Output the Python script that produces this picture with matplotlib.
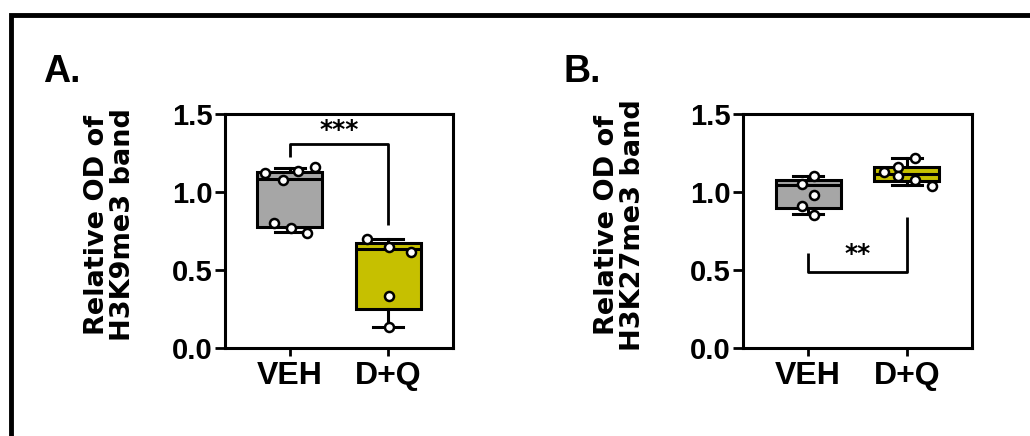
import matplotlib.pyplot as plt
from matplotlib.patches import Rectangle

plt.rcParams['font.family'] = ['Liberation Sans', 'DejaVu Sans']
plt.rcParams['font.weight'] = 'bold'

groups = ['VEH', 'D+Q']

# Panel A: H3K9me3, individual points per group
a_veh = [1.12, 1.077, 1.135, 1.158, 0.80, 0.771, 0.735]
a_dq = [0.699, 0.645, 0.617, 0.335, 0.137]
# box summaries (whisker low, Q1, median, Q3, whisker high)
a_boxes = [[0.744, 0.776, 1.083, 1.128, 1.154],
           [0.137, 0.25, 0.632, 0.671, 0.699]]

# Panel B: H3K27me3
b_veh = [1.051, 1.103, 0.979, 0.910, 0.853]
b_dq = [1.216, 1.158, 1.131, 1.103, 1.077, 1.040]
b_boxes = [[0.859, 0.90, 1.045, 1.077, 1.10],
           [1.045, 1.071, 1.115, 1.162, 1.216]]

# horizontal spread of the scatter points inside each box
a_jitter = [[-0.25, -0.07, 0.08, 0.26, -0.16, 0.01, 0.17],
            [-0.22, 0.01, 0.235, 0.01, 0.01]]
b_jitter = [[-0.06, 0.06, 0.06, -0.06, 0.06],
            [0.08, -0.09, -0.235, -0.09, 0.08, 0.25]]

box_colors = ['#a6a6a6', '#c6c000']

W, H = 1030, 436
fig = plt.figure(figsize=(W / 100, H / 100), dpi=100)


def px_axes(left, right, top, bottom):
    return fig.add_axes([left / W, 1 - bottom / H, (right - left) / W, (bottom - top) / H])


def draw_panel(ax, boxes, points, jitter):
    stats = []
    for b in boxes:
        stats.append(dict(whislo=b[0], q1=b[1], med=b[2], q3=b[3], whishi=b[4], fliers=[]))
    bp = ax.bxp(stats, positions=[0, 1], widths=0.66, capwidths=0.3, patch_artist=True,
                showfliers=False,
                boxprops=dict(linewidth=2.2, edgecolor='black'),
                medianprops=dict(color='black', linewidth=2.2),
                whiskerprops=dict(color='black', linewidth=2.2),
                capprops=dict(color='black', linewidth=2.2))
    for patch, c in zip(bp['boxes'], box_colors):
        patch.set_facecolor(c)
    for i, (vals, jit) in enumerate(zip(points, jitter)):
        xs = [i + j for j in jit]
        ax.plot(xs, vals, 'o', ms=6.5, mfc='white', mec='black', mew=1.8, zorder=5)

    ax.set_xlim(-0.66, 1.66)
    ax.set_ylim(0, 1.5)
    ax.set_yticks([0, 0.5, 1.0, 1.5])
    ax.set_yticklabels(['0.0', '0.5', '1.0', '1.5'])
    ax.set_xticks([0, 1])
    ax.set_xticklabels(groups)
    for s in ax.spines.values():
        s.set_linewidth(2.2)
    ax.tick_params(axis='y', length=7, width=2, pad=2, labelsize=21)
    ax.tick_params(axis='x', length=6, width=2, pad=3, labelsize=23)


# Panel A
ax1 = px_axes(225, 453, 114, 348)
draw_panel(ax1, a_boxes, [a_veh, a_dq], a_jitter)
ax1.plot([0, 0, 1, 1], [1.227, 1.31, 1.31, 0.788], color='black', lw=2, solid_capstyle='butt')
ax1.text(0.5, 1.40, '***', ha='center', va='center', fontsize=18,
         family='DejaVu Sans', fontweight='bold')

# Panel B
ax2 = px_axes(743, 972, 114, 348)
draw_panel(ax2, b_boxes, [b_veh, b_dq], b_jitter)
ax2.plot([0, 0, 1, 1], [0.607, 0.489, 0.489, 0.842], color='black', lw=2, solid_capstyle='butt')
ax2.text(0.5, 0.60, '**', ha='center', va='center', fontsize=18,
         family='DejaVu Sans', fontweight='bold')

# y axis titles
fig.text(110 / W, 1 - 225 / H, 'Relative OD of\nH3K9me3 band', rotation=90,
         ha='center', va='center', fontsize=19.5, family='DejaVu Sans',
         fontweight='bold', linespacing=1.0)
fig.text(620 / W, 1 - 225 / H, 'Relative OD of\nH3K27me3 band', rotation=90,
         ha='center', va='center', fontsize=19.5, family='DejaVu Sans',
         fontweight='bold', linespacing=1.0)

# panel letters
fig.text(43 / W, 1 - 82 / H, 'A.', fontsize=27, fontweight='bold', ha='left', va='baseline')
fig.text(563 / W, 1 - 82 / H, 'B.', fontsize=27, fontweight='bold', ha='left', va='baseline')

# outer frame, running off the right and bottom edges
fig.patches.append(Rectangle((10.5 / W, -0.2), 1.3, 1.2 - 14.5 / H, transform=fig.transFigure,
                             fill=False, edgecolor='black', linewidth=3.5))

fig.savefig('out.png', dpi=100)
